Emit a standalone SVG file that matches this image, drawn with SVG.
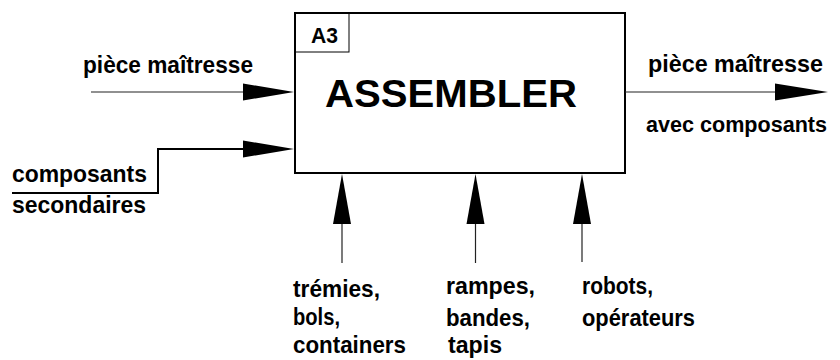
<svg xmlns="http://www.w3.org/2000/svg" width="840" height="360" viewBox="0 0 840 360">
<style>
text{font-family:"Liberation Sans",Arial,Helvetica,sans-serif;font-weight:bold;fill:#000}
.lbl{font-size:24px}
.thin{stroke:#222;stroke-width:1.2;fill:none}
.thick{stroke:#000;stroke-width:2;fill:none}
.head{fill:#000;stroke:none}
</style>
<rect width="840" height="360" fill="#fff"/>
<g id="node-A3">
<rect x="295" y="13" width="330" height="160" fill="#fff" stroke="#000" stroke-width="2"/>
<rect x="295" y="13" width="54" height="39" fill="none" stroke="#000" stroke-width="1"/>
<text x="311" y="43" font-size="22" textLength="27" lengthAdjust="spacingAndGlyphs">A3</text>
<text x="325" y="107" font-size="39" textLength="252" lengthAdjust="spacingAndGlyphs">ASSEMBLER</text>
</g>
<g id="connectors">
<line class="thin" x1="91" y1="92" x2="245" y2="92"/>
<polygon class="head" points="243,83.5 294,92 243,100.5"/>
<polyline class="thick" points="12,193 158,193 158,149 245,149"/>
<polygon class="head" points="243,140.5 294,149 243,157.5"/>
<line class="thin" x1="625" y1="92" x2="777" y2="92"/>
<polygon class="head" points="775,83.5 828,92 775,100.5"/>
<line class="thin" x1="342" y1="222" x2="342" y2="263"/>
<polygon class="head" points="333,224 342,174 351,224"/>
<line class="thin" x1="475.5" y1="222" x2="475.5" y2="263"/>
<polygon class="head" points="466.5,224 475.5,174 484.5,224"/>
<line class="thin" x1="582" y1="222" x2="582" y2="262"/>
<polygon class="head" points="573,224 582,174 591,224"/>
</g>
<g id="label-input1">
<text class="lbl" x="83" y="73" textLength="170" lengthAdjust="spacingAndGlyphs">pièce maîtresse</text>
</g>
<g id="label-input2">
<text class="lbl" x="12" y="182" textLength="135" lengthAdjust="spacingAndGlyphs">composants</text>
<text class="lbl" x="12" y="213" textLength="134" lengthAdjust="spacingAndGlyphs">secondaires</text>
</g>
<g id="label-output">
<text class="lbl" x="648" y="72" textLength="175" lengthAdjust="spacingAndGlyphs">pièce maîtresse</text>
<text x="646" y="132" font-size="22" textLength="181" lengthAdjust="spacingAndGlyphs">avec composants</text>
</g>
<g id="label-mech1">
<text class="lbl" x="293" y="297" textLength="87" lengthAdjust="spacingAndGlyphs">trémies,</text>
<text class="lbl" x="293" y="325" textLength="47" lengthAdjust="spacingAndGlyphs">bols,</text>
<text class="lbl" x="293" y="353" textLength="113" lengthAdjust="spacingAndGlyphs">containers</text>
</g>
<g id="label-mech2">
<text class="lbl" x="446" y="294" textLength="89" lengthAdjust="spacingAndGlyphs">rampes,</text>
<text class="lbl" x="446" y="326" textLength="84" lengthAdjust="spacingAndGlyphs">bandes,</text>
<text class="lbl" x="448" y="353" textLength="54" lengthAdjust="spacingAndGlyphs">tapis</text>
</g>
<g id="label-mech3">
<text class="lbl" x="582" y="294" textLength="71" lengthAdjust="spacingAndGlyphs">robots,</text>
<text class="lbl" x="582" y="326" textLength="113" lengthAdjust="spacingAndGlyphs">opérateurs</text>
</g>
</svg>
